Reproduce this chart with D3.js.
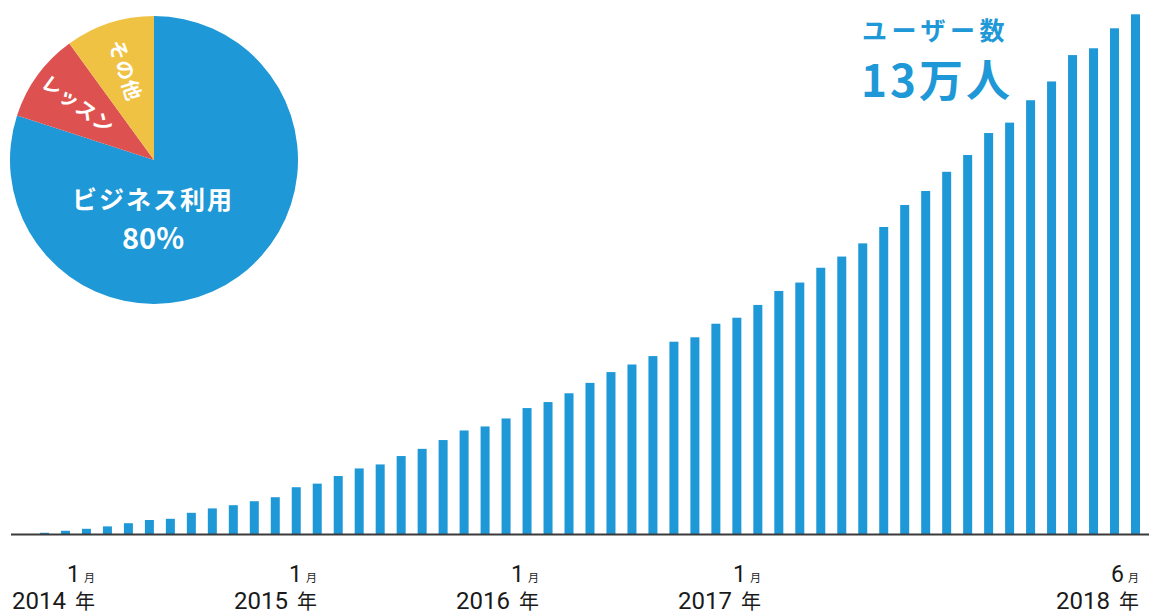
<!DOCTYPE html>
<html>
<head>
<meta charset="utf-8">
<script src="https://cdn.jsdelivr.net/npm/d3@7/dist/d3.min.js"></script>
<style>
  html, body { margin: 0; padding: 0; background: #fff; }
  svg { display: block; }
  text { font-family: "Noto Sans CJK JP", "Noto Sans", sans-serif; }
</style>
</head>
<body>
<svg width="1149" height="614"></svg>
<script>
// monthly users, Jan 2014 .. Jun 2018
var months = d3.range(54).map(function(i) {
  return new Date(2014, i, 1);
});
var users = [
  0, 300, 800, 1300, 1900, 2700, 3500, 3800, 5300, 6400, 7200, 8200,
  9200, 11700, 12600, 14500, 16400, 17400, 19500, 21300, 23500, 25900, 26900, 28900,
  31500, 33000, 35200, 37800, 40500, 42400, 44500, 48100, 49200, 52600, 54100, 57300,
  60800, 62900, 66600, 69400, 72700, 76800, 82300, 85800, 90600, 94800, 100300, 102900,
  108500, 113200, 119800, 121500, 126500, 130000
];

// share of usage
var shareLabels = ["ビジネス利用", "レッスン", "その他"];
var shareValues = [80, 10, 10];

// x axis labels (month, year)
var tickMonths = ["1", "1", "1", "1", "6"];
var tickYears = ["2014", "2015", "2016", "2017", "2018"];

var titleText = "ユーザー数";
var totalText = "13万人";

var svg = d3.select("svg"),
    width = +svg.attr("width"),
    height = +svg.attr("height");

var blue = "#1e98d6",
    red = "#dd5250",
    yellow = "#f0c244";

var baseline = 534;

var x = d3.scaleLinear()
    .domain([0, months.length - 1])
    .range([19, 1131]);
var barW = 9;

var y = d3.scaleLinear()
    .domain([0, 130000])
    .range([baseline, 14.3]);

// bars
svg.append("g")
  .selectAll("rect")
  .data(users)
  .enter().append("rect")
    .attr("x", function(d, i) { return x(i); })
    .attr("y", function(d) { return y(d); })
    .attr("width", barW)
    .attr("height", function(d) { return baseline - y(d); })
    .attr("fill", blue);

// axis line
svg.append("line")
  .attr("x1", 11).attr("x2", width)
  .attr("y1", baseline + 0.5).attr("y2", baseline + 0.5)
  .attr("stroke", "#3a3a3a")
  .attr("stroke-width", 2);

// tick labels: first four evenly spread, last at right edge
var tickX = d3.scalePoint()
    .domain(tickYears.slice(0, 4))
    .range([95, 761]);

var ticks = svg.append("g")
  .selectAll("g")
  .data(tickYears)
  .enter().append("g")
    .attr("transform", function(d, i) {
      var tx = i < 4 ? tickX(d) : 1139;
      return "translate(" + tx + ",0)";
    })
    .attr("text-anchor", "end")
    .attr("fill", "#1a1a1a");

var mt = ticks.append("text")
    .attr("y", 582);
mt.append("tspan")
    .style("font-family", "Roboto, sans-serif")
    .style("font-size", "23px")
    .text(function(d, i) { return tickMonths[i]; });
mt.append("tspan")
    .attr("dx", 4)
    .style("font-size", "11px")
    .text("月");

var yt = ticks.append("text")
    .attr("y", 609);
yt.append("tspan")
    .style("font-family", "Roboto, sans-serif")
    .style("font-size", "24px")
    .text(function(d) { return d; });
yt.append("tspan")
    .attr("dx", 9)
    .style("font-size", "20px")
    .text("年");

// title top right
svg.append("text")
  .attr("x", 862).attr("y", 40)
  .attr("fill", blue)
  .style("font-size", "25px")
  .style("font-weight", "700")
  .style("letter-spacing", "4.5px")
  .text(titleText);

svg.append("text")
  .attr("x", 861).attr("y", 97)
  .attr("fill", blue)
  .style("font-size", "44px")
  .style("font-weight", "700")
  .style("letter-spacing", "3px")
  .text(totalText);

// pie
var cx = 154, cy = 160, r = 144;
var pie = d3.pie().sort(null);
var arc = d3.arc().innerRadius(0).outerRadius(r);
var pieColor = [blue, red, yellow];
var arcs = pie(shareValues);

var pg = svg.append("g")
  .attr("transform", "translate(" + cx + "," + cy + ")");

pg.selectAll("path")
  .data(arcs)
  .enter().append("path")
    .attr("d", arc)
    .attr("fill", function(d, i) { return pieColor[i]; });

// main slice label
pg.append("text")
  .attr("x", -1).attr("y", 49)
  .attr("text-anchor", "middle")
  .attr("fill", "#fff")
  .style("font-size", "25px")
  .style("font-weight", "700")
  .style("letter-spacing", "2px")
  .text(shareLabels[0]);

pg.append("text")
  .attr("x", -1).attr("y", 89)
  .attr("text-anchor", "middle")
  .attr("fill", "#fff")
  .style("font-size", "29px")
  .style("font-weight", "700")
  .text(shareValues[0] + "%");

// small slice labels, running along the radius toward the centre
arcs.slice(1).forEach(function(a, k) {
  var mid = (a.startAngle + a.endAngle) / 2;
  var rr = 94;
  var px = Math.sin(mid) * rr, py = -Math.cos(mid) * rr;
  var rot = Math.atan2(-py, -px) * 180 / Math.PI;
  pg.append("text")
    .attr("transform", "translate(" + px + "," + py + ") rotate(" + rot + ")")
    .attr("text-anchor", "middle")
    .attr("dy", "0.35em")
    .attr("fill", "#fff")
    .style("font-size", "20px")
    .style("font-weight", "700")
    .style("letter-spacing", "1px")
    .text(shareLabels[k + 1]);
});
</script>
</body>
</html>
